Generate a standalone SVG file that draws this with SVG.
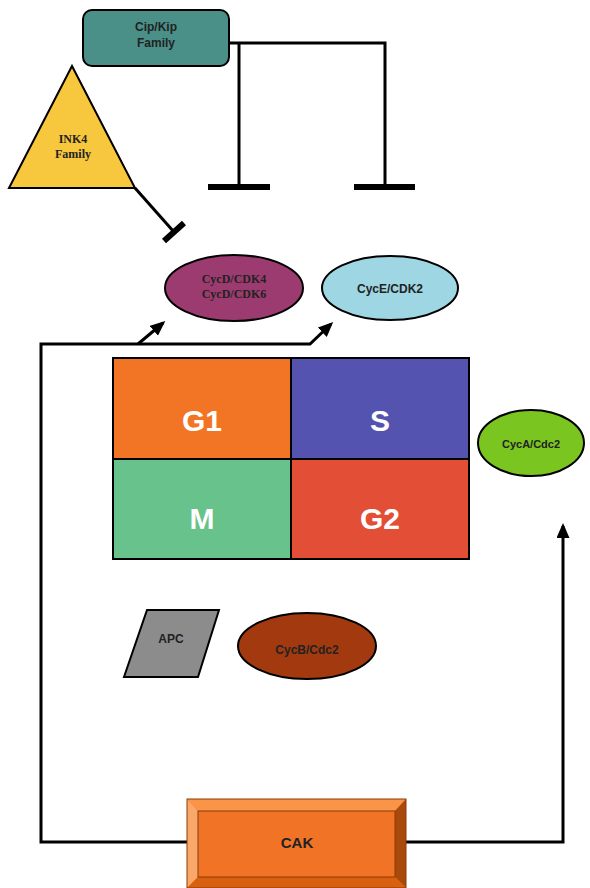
<svg xmlns="http://www.w3.org/2000/svg" width="590" height="888" viewBox="0 0 590 888">
<style>
.ln{fill:none;stroke:#000;stroke-width:3;stroke-linejoin:miter}
.bar{stroke:#000;stroke-width:6;fill:none}
.sk{stroke:#000;stroke-width:2}
.sans{font-family:"Liberation Sans",Arial,sans-serif;font-weight:bold;text-anchor:middle}
.serif{font-family:"Liberation Serif","Times New Roman",serif;font-weight:bold;text-anchor:middle}
.big{font-size:30px;fill:#fff}
</style>
<defs>
<marker id="ah" markerWidth="15" markerHeight="13" refX="12" refY="6.5" orient="auto" markerUnits="userSpaceOnUse" viewBox="0 0 15 13">
<path d="M0,0 L15,6.5 L0,13 z" fill="#000"/>
</marker>
</defs>
<rect width="590" height="888" fill="#fff"/>
<g id="connectors">
<path class="ln" d="M229,43 H385 V187"/>
<path class="ln" d="M239,43 V187"/>
<line class="bar" x1="208" y1="187" x2="270" y2="187"/>
<line class="bar" x1="354" y1="187" x2="415" y2="187"/>
<line class="ln" x1="135" y1="188" x2="174" y2="232"/>
<line class="bar" x1="164" y1="241" x2="184" y2="223"/>
<path class="ln" d="M187,842 H41 V344 H310 L331,324" marker-end="url(#ah)"/>
<path class="ln" d="M138,344 L163,323" marker-end="url(#ah)"/>
<path class="ln" d="M406,842 H563 V526" marker-end="url(#ah)"/>
</g>
<g id="cipkip">
<rect x="83" y="10" width="146" height="56" rx="9" fill="#4a9088" class="sk"/>
<text class="sans" x="156" y="31" font-size="12" fill="#222">Cip/Kip</text>
<text class="sans" x="156" y="47" font-size="12" fill="#222">Family</text>
</g>
<g id="ink4">
<polygon points="72,66 135,188 9,188" fill="#f7c73d" class="sk"/>
<text class="serif" x="73" y="143" font-size="12" fill="#222">INK4</text>
<text class="serif" x="73" y="158" font-size="12" fill="#222">Family</text>
</g>
<g id="cycd">
<ellipse cx="234" cy="288" rx="69" ry="33" fill="#9c3b6f" class="sk"/>
<text class="serif" x="234" y="283" font-size="12" fill="#222">CycD/CDK4</text>
<text class="serif" x="234" y="298" font-size="12" fill="#222">CycD/CDK6</text>
</g>
<g id="cyce">
<ellipse cx="390" cy="288" rx="68" ry="32" fill="#9ed6e4" class="sk"/>
<text class="sans" x="390" y="293" font-size="12" fill="#222">CycE/CDK2</text>
</g>
<g id="phases">
<rect x="113" y="358" width="178" height="101" fill="#f27425"/>
<rect x="291" y="358" width="178" height="101" fill="#5553b0"/>
<rect x="113" y="459" width="178" height="100" fill="#67c28b"/>
<rect x="291" y="459" width="178" height="100" fill="#e24f36"/>
<rect x="113" y="358" width="356" height="201" class="sk" fill="none"/>
<line x1="291" y1="358" x2="291" y2="559" class="sk"/>
<line x1="113" y1="459" x2="469" y2="459" class="sk"/>
<text class="sans big" x="202" y="431">G1</text>
<text class="sans big" x="380" y="431">S</text>
<text class="sans big" x="202" y="529">M</text>
<text class="sans big" x="380" y="529">G2</text>
</g>
<g id="cyca">
<ellipse cx="531" cy="443" rx="53" ry="33" fill="#7ac520" class="sk"/>
<text class="sans" x="531" y="448" font-size="11" fill="#222">CycA/Cdc2</text>
</g>
<g id="apc">
<polygon points="147,610 219,610 198,677 124,677" fill="#8c8c8c" class="sk"/>
<text class="sans" x="171" y="643" font-size="12" fill="#222">APC</text>
</g>
<g id="cycb">
<ellipse cx="307" cy="646" rx="69" ry="33" fill="#a3390f" class="sk"/>
<text class="sans" x="307" y="654" font-size="12" fill="#222">CycB/Cdc2</text>
</g>
<g id="cak">
<rect x="187" y="799" width="219" height="89" fill="#f07326"/>
<polygon points="187,799 406,799 395,811 198,811" fill="#f99448"/>
<polygon points="187,799 198,811 198,877 187,888" fill="#faa86a"/>
<polygon points="406,799 406,888 395,877 395,811" fill="#a84a0c"/>
<polygon points="187,888 198,877 395,877 406,888" fill="#d8600f"/>
<rect x="187" y="799" width="219" height="89" fill="none" stroke="#8a3a08" stroke-width="1"/>
<rect x="198" y="811" width="197" height="66" fill="none" stroke="#8a3a08" stroke-width="1"/>
<text class="sans" x="297" y="848" font-size="15" fill="#222">CAK</text>
</g>
</svg>
